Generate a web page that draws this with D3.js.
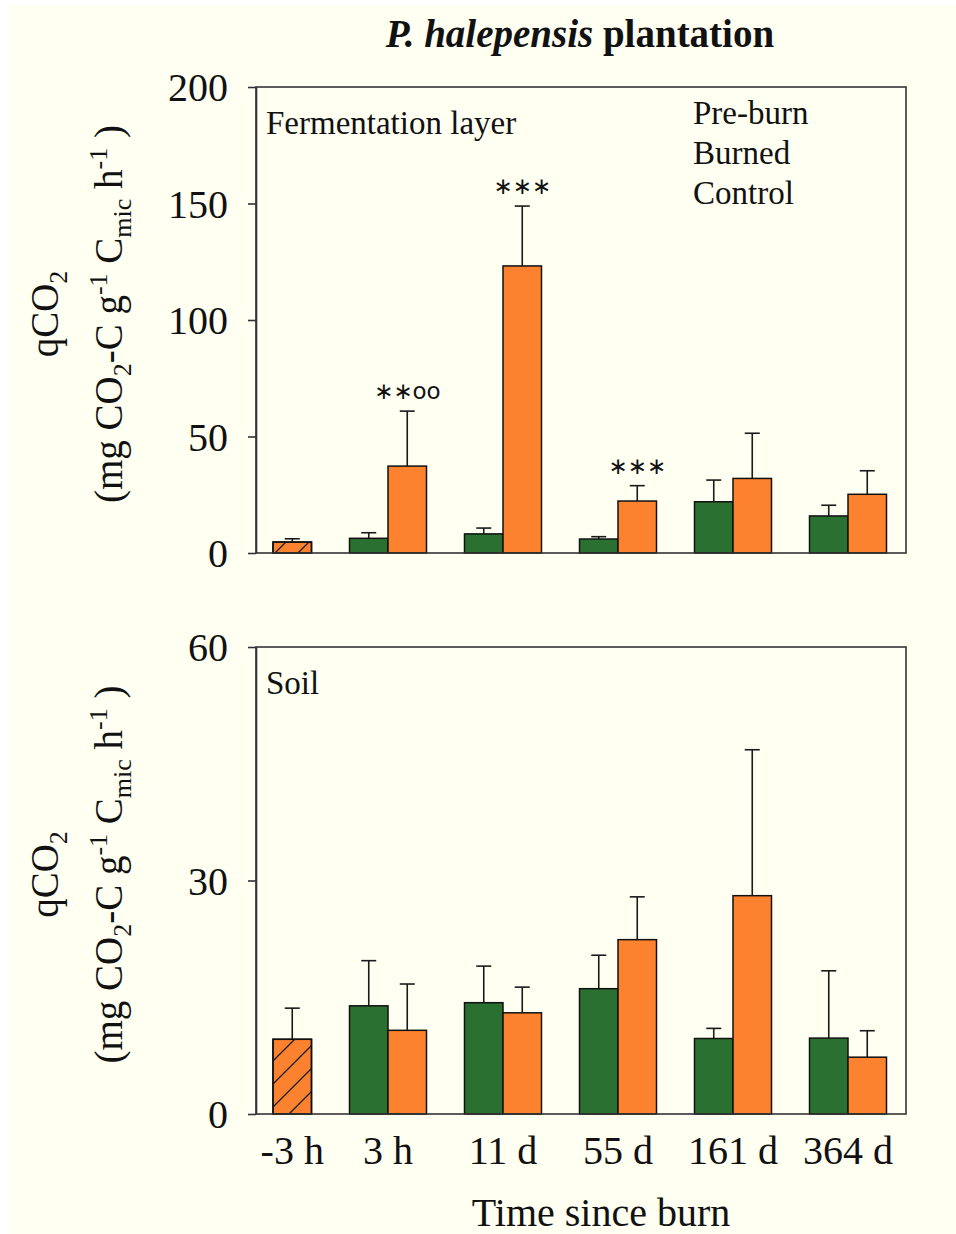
<!DOCTYPE html>
<html>
<head>
<meta charset="utf-8">
<script src="https://cdn.jsdelivr.net/npm/d3@7"></script>
<style>
  body { margin: 0; background: #ffffff; }
  svg { display: block; }
</style>
</head>
<body>
<div id="chart"></div>
<script>
// categories and tick labels
const categories = ["-3 h", "3 h", "11 d", "55 d", "161 d", "364 d"];
const fermTicks = [0, 50, 100, 150, 200];
const soilTicks = [0, 30, 60];
const legendItems = ["Pre-burn", "Burned", "Control"];

// fermentation layer (null = no bar)
const fermPre = [4.7, null, null, null, null, null];
const fermPreErr = [1.4, null, null, null, null, null];
const fermControl = [null, 6.3, 8.2, 6.0, 22.0, 15.9];
const fermControlErr = [null, 2.4, 2.5, 1.0, 9.3, 4.6];
const fermBurned = [null, 37.3, 123.2, 22.3, 32.0, 25.2];
const fermBurnedErr = [null, 23.6, 25.7, 6.6, 19.4, 10.1];
const fermSig = ["", "∗∗oo", "∗∗∗", "∗∗∗", "", ""];

// soil
const soilPre = [9.6, null, null, null, null, null];
const soilPreErr = [4.0, null, null, null, null, null];
const soilControl = [null, 13.9, 14.3, 16.1, 9.7, 9.75];
const soilControlErr = [null, 5.8, 4.7, 4.3, 1.3, 8.65];
const soilBurned = [null, 10.75, 13.0, 22.4, 28.05, 7.3];
const soilBurnedErr = [null, 5.95, 3.3, 5.5, 18.75, 3.4];

const green = "#2a7030", orange = "#fd8230";
const serif = "'Liberation Serif', 'Times New Roman', serif";

var width = 956, height = 1234;
var left = 256, right = 906;

var svg = d3.select("#chart").append("svg")
  .attr("width", width).attr("height", height);

svg.append("rect")
  .attr("x", 9).attr("y", 5)
  .attr("width", width - 9).attr("height", height - 5)
  .attr("fill", "#fffff2");

// hatch for pre-burn
var pat = svg.append("defs").append("pattern")
  .attr("id", "hatch").attr("patternUnits", "userSpaceOnUse")
  .attr("width", 23).attr("height", 23);
pat.append("path")
  .attr("d", "M0,23 L23,0 M-2,2 L2,-2 M21,25 L25,21")
  .attr("stroke", "#1a1a1a").attr("stroke-width", 1.3);

var x = d3.scaleBand().domain(categories).range([215.5, 905.5]);
var bw = 38.5;

// title
var title = svg.append("text")
  .attr("x", 580).attr("y", 47)
  .attr("text-anchor", "middle")
  .attr("font-family", serif).attr("font-size", 39).attr("font-weight", "bold")
  .attr("fill", "#111");
title.append("tspan").attr("font-style", "italic").text("P. halepensis");
title.append("tspan").text(" plantation");

function drawPanel(cfg) {
  var y = d3.scaleLinear().domain([0, cfg.max]).range([cfg.bottom, cfg.top]);
  var g = svg.append("g");

  var rows = categories.map(function(c, i) {
    var center = x(c) + x.bandwidth() / 2;
    return {cat: c, i: i, center: center};
  });

  function bars(vals, errs, xoff, fill) {
    var d = rows.filter(function(r) { return vals[r.i] != null; });
    g.selectAll(null).data(d).enter().append("line")
      .attr("x1", function(r) { return r.center + xoff + bw / 2; })
      .attr("x2", function(r) { return r.center + xoff + bw / 2; })
      .attr("y1", function(r) { return y(vals[r.i]); })
      .attr("y2", function(r) { return y(vals[r.i] + errs[r.i]); })
      .attr("stroke", "#1a1a1a").attr("stroke-width", 1.6);
    g.selectAll(null).data(d).enter().append("line")
      .attr("x1", function(r) { return r.center + xoff + bw / 2 - 7.5; })
      .attr("x2", function(r) { return r.center + xoff + bw / 2 + 7.5; })
      .attr("y1", function(r) { return y(vals[r.i] + errs[r.i]); })
      .attr("y2", function(r) { return y(vals[r.i] + errs[r.i]); })
      .attr("stroke", "#1a1a1a").attr("stroke-width", 1.6);
    g.selectAll(null).data(d).enter().append("rect")
      .attr("x", function(r) { return r.center + xoff; })
      .attr("y", function(r) { return y(vals[r.i]); })
      .attr("width", bw)
      .attr("height", function(r) { return cfg.bottom - y(vals[r.i]); })
      .attr("fill", fill)
      .attr("stroke", "#111").attr("stroke-width", 1.5);
    return d;
  }

  bars(cfg.control, cfg.controlErr, -bw, green);
  bars(cfg.burned, cfg.burnedErr, 0, orange);
  var pd = bars(cfg.pre, cfg.preErr, 0, orange);
  g.selectAll(null).data(pd).enter().append("rect")
    .attr("x", function(r) { return r.center; })
    .attr("y", function(r) { return y(cfg.pre[r.i]); })
    .attr("width", bw)
    .attr("height", function(r) { return cfg.bottom - y(cfg.pre[r.i]); })
    .attr("fill", "url(#hatch)")
    .attr("stroke", "#111").attr("stroke-width", 1.5);

  // significance markers
  if (cfg.sig) {
    g.selectAll(null).data(rows.filter(function(r) { return cfg.sig[r.i]; }))
      .enter().append("text")
      .attr("x", function(r) { return r.center + bw / 2; })
      .attr("y", function(r) { return y(cfg.burned[r.i] + cfg.burnedErr[r.i]) - 12; })
      .attr("text-anchor", "middle")
      .attr("font-family", "'DejaVu Sans', sans-serif").attr("font-size", 23)
      .attr("fill", "#111")
      .text(function(r) { return cfg.sig[r.i]; });
  }

  // frame
  svg.append("rect")
    .attr("x", left).attr("y", cfg.top)
    .attr("width", right - left).attr("height", cfg.bottom - cfg.top)
    .attr("fill", "none").attr("stroke", "#333").attr("stroke-width", 1.6);

  // y axis
  var ax = svg.append("g")
    .attr("transform", "translate(" + left + ",0)")
    .call(d3.axisLeft(y).tickValues(cfg.ticks).tickSize(8).tickSizeOuter(0).tickPadding(20));
  ax.select(".domain").attr("stroke", "#333").attr("stroke-width", 1.6);
  ax.selectAll(".tick line").attr("stroke", "#333").attr("stroke-width", 1.6);
  ax.selectAll(".tick text")
    .attr("font-family", serif).attr("font-size", 40).attr("fill", "#111")
    .attr("dy", "0.34em");

  // y title
  var cy = (cfg.top + cfg.bottom) / 2 - 6;
  var t1 = svg.append("text")
    .attr("transform", "translate(58," + cy + ") rotate(-90)")
    .attr("text-anchor", "middle")
    .attr("font-family", serif).attr("font-size", 39).attr("fill", "#111");
  t1.append("tspan").text("qCO");
  t1.append("tspan").attr("font-size", 26).attr("dy", 9).text("2");

  var t2 = svg.append("text")
    .attr("transform", "translate(122," + cy + ") rotate(-90)")
    .attr("text-anchor", "middle")
    .attr("font-family", serif).attr("font-size", 39).attr("fill", "#111");
  var parts = [
    ["(mg CO", 0, 39], ["2", 9, 26], ["-C g", -9, 39], ["-1", -15, 26],
    [" C", 15, 39], ["mic", 9, 26], [" h", -9, 39], ["-1", -15, 26], [" )", 15, 39]
  ];
  parts.forEach(function(p) {
    t2.append("tspan").attr("dy", p[1]).attr("font-size", p[2]).text(p[0]);
  });

  svg.append("text")
    .attr("x", 266).attr("y", cfg.top + 47)
    .attr("font-family", serif).attr("font-size", 33).attr("fill", "#111")
    .text(cfg.label);

  return rows;
}

drawPanel({
  top: 87, bottom: 553, max: 200, ticks: fermTicks, label: "Fermentation layer",
  pre: fermPre, preErr: fermPreErr, control: fermControl, controlErr: fermControlErr,
  burned: fermBurned, burnedErr: fermBurnedErr, sig: fermSig
});

var rows = drawPanel({
  top: 647, bottom: 1114, max: 60, ticks: soilTicks, label: "Soil",
  pre: soilPre, preErr: soilPreErr, control: soilControl, controlErr: soilControlErr,
  burned: soilBurned, burnedErr: soilBurnedErr
});

// legend (text only)
svg.selectAll(null).data(legendItems).enter().append("text")
  .attr("x", 693).attr("y", function(d, i) { return 124 + i * 40; })
  .attr("font-family", serif).attr("font-size", 33).attr("fill", "#111")
  .text(function(d) { return d; });

// x labels
svg.selectAll(null).data(rows).enter().append("text")
  .attr("x", function(r) { return soilPre[r.i] != null ? r.center + bw / 2 : r.center; })
  .attr("y", 1164)
  .attr("text-anchor", "middle")
  .attr("font-family", serif).attr("font-size", 40).attr("fill", "#111")
  .text(function(r) { return r.cat; });

svg.append("text")
  .attr("x", 601).attr("y", 1226)
  .attr("text-anchor", "middle")
  .attr("font-family", serif).attr("font-size", 40).attr("fill", "#111")
  .text("Time since burn");
</script>
</body>
</html>
